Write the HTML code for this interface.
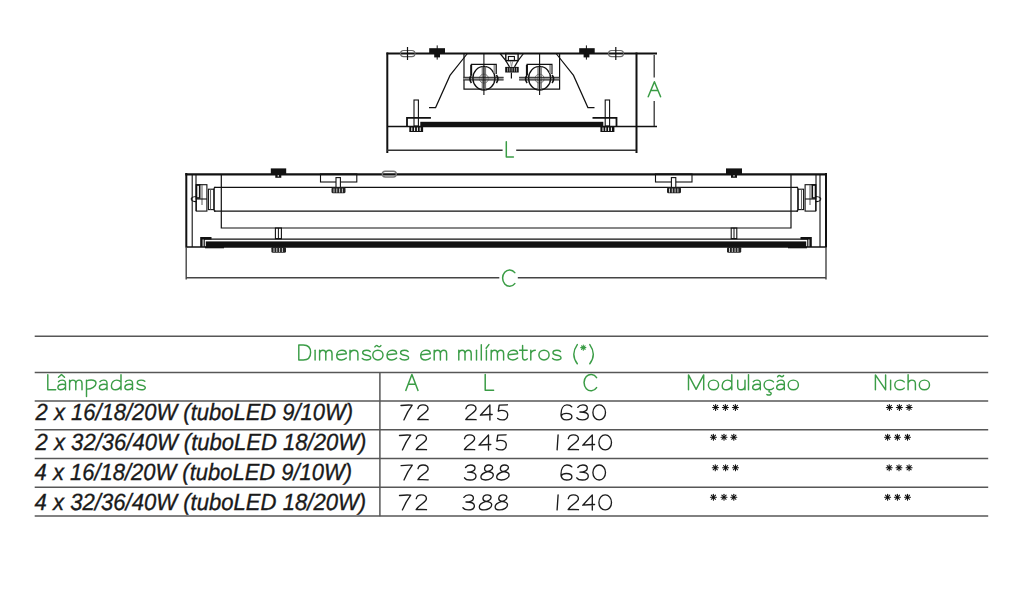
<!DOCTYPE html>
<html><head><meta charset="utf-8">
<style>
html,body{margin:0;padding:0;background:#fff;width:1024px;height:595px;overflow:hidden}
svg{display:block}
.k{stroke:#111;fill:none}
.g{fill:#3a9c45;font-family:"Liberation Sans",sans-serif;stroke:#fff;stroke-width:0.7px}
.t{fill:#1a1a1a;font-family:"Liberation Sans",sans-serif;font-style:italic;text-rendering:geometricPrecision;stroke:#1a1a1a;stroke-width:0.35px}
.n{fill:#222;font-family:"Liberation Sans",sans-serif}
.gl{stroke:#3a9c45;fill:none;stroke-width:1.5;stroke-linecap:round;stroke-linejoin:round}
</style></head>
<body>
<svg width="1024" height="595" viewBox="0 0 1024 595">
<!-- ============ SMALL DRAWING (cross-section) ============ -->
<g class="k">
  <!-- box -->
  <line x1="386.5" y1="53.5" x2="657" y2="53.5" stroke-width="2"/>
  <line x1="387.3" y1="52.5" x2="387.3" y2="153" stroke-width="2"/>
  <line x1="636.5" y1="52.5" x2="636.5" y2="153" stroke-width="2"/>
  <line x1="387" y1="126.5" x2="657" y2="126.5" stroke-width="1.5"/>
  <!-- dim lines -->
  <line x1="387" y1="150.3" x2="502.6" y2="150.3" stroke-width="1.4" stroke="#333"/>
  <line x1="516.2" y1="150.3" x2="636" y2="150.3" stroke-width="1.4" stroke="#333"/>
  <line x1="654.2" y1="55" x2="654.2" y2="77.4" stroke-width="1.3" stroke="#333"/>
  <line x1="654.2" y1="101" x2="654.2" y2="126" stroke-width="1.3" stroke="#333"/>
  <!-- reflector -->
  <polyline points="429,107.6 435.6,107.6 450,75.4 467.4,53.5" stroke-width="1.2"/>
  <polyline points="594.5,107.6 587.9,107.6 573.5,75.4 556.1,53.5" stroke-width="1.2"/>
  <!-- inner box -->
  <polyline points="464,53.5 464,89.2 559.6,89.2 559.6,53.5" stroke-width="1.2"/>
  <!-- lamp holders -->
  <g stroke-width="1.2">
    <rect x="482.2" y="66" width="3.4" height="24" fill="#b5b5b5" stroke="none"/>
    <rect x="463.4" y="77.3" width="40.2" height="2.7" fill="#999" stroke="none"/>
    <ellipse cx="483.9" cy="78.2" rx="11" ry="11.8" stroke-width="1.4"/>
    <circle cx="483.9" cy="78.6" r="4.5" stroke="#777" stroke-width="1"/>
    <path d="M482.2,66 V90 M485.6,66 V90" stroke="#555" stroke-width="0.8"/>
    <path d="M463.4,77.3 H503.6 M463.4,80 H503.6" stroke="#222" stroke-width="1"/>
    <line x1="483.9" y1="53.5" x2="483.9" y2="95" stroke-width="1.1"/>
    <path d="M471.5,75 V64.4 H496.2 V74" stroke-width="1.3"/>
    <path d="M471.1,64.8 V75" stroke-width="1.8"/>
    <rect x="493.5" y="65" width="2.4" height="8" fill="#999" stroke="none"/>
    <path d="M471.4,75 Q468.4,79 471.4,83 M496.4,75 Q499.4,79 496.4,83" stroke-width="1.6"/>
    <rect x="537.9" y="66" width="3.4" height="24" fill="#b5b5b5" stroke="none"/>
    <rect x="519.1" y="77.3" width="40.2" height="2.7" fill="#999" stroke="none"/>
    <ellipse cx="539.6" cy="78.2" rx="11" ry="11.8" stroke-width="1.4"/>
    <circle cx="539.6" cy="78.6" r="4.5" stroke="#777" stroke-width="1"/>
    <path d="M537.9,66 V90 M541.3,66 V90" stroke="#555" stroke-width="0.8"/>
    <path d="M519.1,77.3 H559.3 M519.1,80 H559.3" stroke="#222" stroke-width="1"/>
    <line x1="539.6" y1="53.5" x2="539.6" y2="95" stroke-width="1.1"/>
    <path d="M527.2,75 V64.4 H551.9 V74" stroke-width="1.3"/>
    <path d="M526.8,64.8 V75" stroke-width="1.8"/>
    <rect x="549.2" y="65" width="2.4" height="8" fill="#999" stroke="none"/>
    <path d="M527.1,75 Q524.1,79 527.1,83 M552.1,75 Q555.1,79 552.1,83" stroke-width="1.6"/>
  </g>
  <!-- middle bracket -->
  <g stroke-width="1.2">
    <path d="M500.1,53.5 L505.8,60.6 L509.5,66.9 M523.5,53.5 L518.1,60.6 L514.5,66.9"/>
    <rect x="505.8" y="53.5" width="12.3" height="7.1" stroke-width="1.4"/>
    <rect x="508.4" y="56.5" width="6" height="4.1" stroke-width="1.1"/>
    <path d="M510.5,61 L511.4,66.5 M512.8,61 L511.6,66.5" stroke="#777" stroke-width="0.8"/>
    <rect x="505.2" y="66.9" width="13.5" height="5.6" fill="#111" stroke="none"/>
    <path d="M507.6,67.8 v3.8 M509.8,67.8 v3.8 M512.1,67.8 v3.8 M514.4,67.8 v3.8 M516.6,67.8 v3.8" stroke="#bbb" stroke-width="0.8"/>
    <line x1="511.4" y1="72.5" x2="511.4" y2="78.4"/>
  </g>
  <!-- top blocks -->
  <rect x="429.2" y="48.2" width="15.8" height="5.3" fill="#111" stroke="none"/>
  <rect x="434.2" y="53.5" width="5.8" height="3.9" fill="#111" stroke="none"/>
  <line x1="437.2" y1="45.4" x2="437.2" y2="59.6" stroke-width="1"/>
  <rect x="579.2" y="48.2" width="15.5" height="5.3" fill="#111" stroke="none"/>
  <rect x="583.6" y="53.5" width="5.8" height="3.9" fill="#111" stroke="none"/>
  <line x1="586.4" y1="45.4" x2="586.4" y2="59.6" stroke-width="1"/>
  <!-- ovals -->
  <rect x="400.5" y="50.5" width="14.5" height="6.2" rx="3.1" stroke="#666" stroke-width="1.2"/>
  <line x1="407.5" y1="47" x2="407.5" y2="60" stroke-width="1.2"/>
  <rect x="608.5" y="50.5" width="15" height="6.2" rx="3.1" stroke="#666" stroke-width="1.2"/>
  <line x1="615.8" y1="47" x2="615.8" y2="60" stroke-width="1.2"/>
  <!-- bottom left -->
  <rect x="414" y="100" width="4.4" height="26" stroke-width="1.1"/>
  <path d="M430.9,117.8 H407 V126.5" stroke-width="1.8"/>
  <rect x="420.3" y="121.8" width="183" height="4.4" fill="#111" stroke="none"/>
  <rect x="409.3" y="126.2" width="13.8" height="5.8" fill="#111" stroke="none"/>
  <path d="M411.8,127.5 v3.5 M414.6,127.5 v3.5 M417.4,127.5 v3.5 M420.2,127.5 v3.5" stroke="#fff" stroke-width="1"/>
  <!-- bottom right -->
  <rect x="605.2" y="100" width="4.4" height="26" stroke-width="1.1"/>
  <path d="M592.5,117.8 H616.5 V126.5" stroke-width="1.8"/>
  <rect x="600.4" y="126.2" width="14" height="5.8" fill="#111" stroke="none"/>
  <path d="M603,127.5 v3.5 M605.8,127.5 v3.5 M608.6,127.5 v3.5 M611.4,127.5 v3.5" stroke="#fff" stroke-width="1"/>
</g>
<!-- labels in drawing -->
<path class="gl" d="M648.2,96.8 L654.4,81.8 L660.6,96.8 M650.8,90.6 H658"/>
<path class="gl" d="M506.3,141.8 V157 H513.4"/>
<path class="gl" d="M514.8,272.6 A7,8.2 0 1 0 514.8,283.6"/>

<!-- ============ LARGE DRAWING (side view) ============ -->
<g class="k">
  <line x1="185.3" y1="174.3" x2="827" y2="174.3" stroke-width="2.2"/>
  <line x1="186.3" y1="173" x2="186.3" y2="247.5" stroke-width="2"/>
  <line x1="826" y1="173" x2="826" y2="247.5" stroke-width="2"/>
  <line x1="186" y1="247" x2="826" y2="247" stroke-width="1.6"/>
  <line x1="186.2" y1="247" x2="186.2" y2="279.5" stroke-width="1.4" stroke="#444"/>
  <line x1="826" y1="247" x2="826" y2="279.5" stroke-width="1.4" stroke="#444"/>
  <line x1="186" y1="277.7" x2="499.3" y2="277.7" stroke-width="1.4" stroke="#444"/>
  <line x1="517.8" y1="277.7" x2="826" y2="277.7" stroke-width="1.4" stroke="#444"/>
  <!-- inner verticals -->
  <path d="M192.2,175 V247 M196,175 V211 M816,175 V211 M820,175 V247" stroke-width="1.1"/>
  <!-- housing -->
  <polyline points="221.3,175 221.3,228 791,228 791,175" stroke-width="1.2"/>
  <!-- tube -->
  <path d="M214,187.4 H798 M214,211.2 H798" stroke-width="1.2"/>
  <path d="M215.5,187.4 Q214,187.4 214,189 V209.6 Q214,211.2 215.5,211.2" stroke-width="1.2"/>
  <path d="M796.5,187.4 Q798,187.4 798,189 V209.6 Q798,211.2 796.5,211.2" stroke-width="1.2"/>
  <!-- lamp holders -->
  <g stroke-width="1.1">
    <rect x="208.4" y="189.2" width="5.6" height="20.4"/>
    <line x1="210.5" y1="189.5" x2="210.5" y2="209.5" stroke="#666"/>
    <rect x="196.3" y="184.7" width="10.6" height="26.4"/>
    <rect x="196.5" y="185" width="3.2" height="13" stroke-width="1.6"/>
    <line x1="202" y1="185" x2="202" y2="205" stroke="#666"/>
    <line x1="196.3" y1="199" x2="206.9" y2="199"/>
    <path d="M196.3,196.5 Q190,197 191.5,200 Q193,202 196.3,201.5" stroke-width="1.1"/>
    <rect x="798" y="189.2" width="5.6" height="20.4"/>
    <line x1="801.5" y1="189.5" x2="801.5" y2="209.5" stroke="#666"/>
    <rect x="805.1" y="184.7" width="10.6" height="26.4"/>
    <rect x="812.3" y="185" width="3.2" height="13" stroke-width="1.6"/>
    <line x1="810" y1="185" x2="810" y2="205" stroke="#666"/>
    <line x1="805.1" y1="199" x2="815.7" y2="199"/>
    <path d="M815.7,196.5 Q822,197 820.5,200 Q819,202 815.7,201.5" stroke-width="1.1"/>
  </g>
  <!-- diffuser -->
  <path d="M204.2,247 V239.2 H807.8 V247" stroke-width="1.2"/>
  <path d="M201.4,247 V238.2 H211.5" stroke-width="2.4"/>
  <path d="M810.6,247 V238.2 H800.5" stroke-width="2.4"/>
  <rect x="205.8" y="241.4" width="600.4" height="5.6" fill="#111" stroke="none"/>
  <rect x="205" y="246.5" width="19" height="1.8" fill="#111" stroke="none"/>
  <rect x="788" y="246.5" width="19" height="1.8" fill="#111" stroke="none"/>
  <!-- top blocks -->
  <rect x="270.8" y="168.4" width="15.4" height="5.8" fill="#111" stroke="none"/>
  <rect x="275.3" y="174" width="6" height="3.8" fill="#111" stroke="none"/><rect x="277.6" y="175.3" width="1.4" height="1.2" fill="#fff" stroke="none"/>
  <rect x="726" y="168.4" width="16" height="5.8" fill="#111" stroke="none"/>
  <rect x="731" y="174" width="6" height="3.8" fill="#111" stroke="none"/><rect x="733.3" y="175.3" width="1.4" height="1.2" fill="#fff" stroke="none"/>
  <rect x="382.3" y="171.2" width="14" height="5.8" rx="2.9" stroke="#777" stroke-width="1.4"/>
  <!-- mounting brackets -->
  <rect x="320.5" y="174" width="36.3" height="8" stroke-width="1.1"/>
  <rect x="655.5" y="174" width="36.5" height="8" stroke-width="1.1"/>
  <rect x="336" y="177.6" width="4.4" height="9.8" stroke-width="1.1" fill="#fff"/>
  <rect x="671.4" y="177.6" width="4.4" height="9.8" stroke-width="1.1" fill="#fff"/>
  <rect x="331.5" y="187.3" width="14" height="6" rx="1.5" fill="#222" stroke="none"/>
  <rect x="667" y="187.3" width="14" height="6" rx="1.5" fill="#222" stroke="none"/>
  <path d="M334,188.5 v4 M336.8,188.5 v4 M339.6,188.5 v4 M342.4,188.5 v4 M669.5,188.5 v4 M672.3,188.5 v4 M675.1,188.5 v4 M677.9,188.5 v4" stroke="#ccc" stroke-width="1"/>
  <!-- lower screws -->
  <rect x="275.4" y="228" width="6" height="10.6" stroke-width="1.1"/>
  <line x1="278.4" y1="228" x2="278.4" y2="238.6" stroke-width="1"/>
  <rect x="731.2" y="228" width="5.6" height="10.6" stroke-width="1.1"/>
  <line x1="734" y1="228" x2="734" y2="238.6" stroke-width="1"/>
  <rect x="271.4" y="246.7" width="14.6" height="6" rx="1.5" fill="#222" stroke="none"/>
  <rect x="727" y="246.7" width="14.2" height="6" rx="1.5" fill="#222" stroke="none"/>
  <path d="M274,248 v4 M276.8,248 v4 M279.6,248 v4 M282.4,248 v4 M729.5,248 v4 M732.3,248 v4 M735.1,248 v4 M737.9,248 v4" stroke="#ccc" stroke-width="1"/>
</g>

<!-- ============ TABLE ============ -->
<g stroke="#575757" stroke-width="1.5">
  <line x1="34.7" y1="336.2" x2="988.2" y2="336.2"/>
  <line x1="34.7" y1="372.5" x2="988.2" y2="372.5"/>
  <line x1="34.7" y1="401" x2="988.2" y2="401"/>
  <line x1="34.7" y1="429.8" x2="988.2" y2="429.8"/>
  <line x1="34.7" y1="458.5" x2="988.2" y2="458.5"/>
  <line x1="34.7" y1="487.3" x2="988.2" y2="487.3"/>
  <line x1="34.7" y1="515.9" x2="988.2" y2="515.9"/>
  <line x1="379.9" y1="372.5" x2="379.9" y2="516.2"/>
</g>
<text class="t" x="35.60" y="420.30" font-size="23.4" textLength="317.50" lengthAdjust="spacingAndGlyphs">2 x 16/18/20W (tuboLED 9/10W)</text>
<text class="t" x="35.60" y="450.00" font-size="23.4" textLength="330.80" lengthAdjust="spacingAndGlyphs">2 x 32/36/40W (tuboLED 18/20W)</text>
<text class="t" x="34.60" y="479.90" font-size="23.4" textLength="317.50" lengthAdjust="spacingAndGlyphs">4 x 16/18/20W (tuboLED 9/10W)</text>
<text class="t" x="34.60" y="510.30" font-size="23.4" textLength="331.60" lengthAdjust="spacingAndGlyphs">4 x 32/36/40W (tuboLED 18/20W)</text>
<path class="gl" d="M405.8,390.4 L411.9,374.5 L418,390.4 M408.1,384.3 H415.7"/>
<path class="gl" d="M485.2,374.6 V390.2 H493.6"/>
<path class="gl" d="M596.6,377.6 A7,8.2 0 1 0 596.6,387.6"/>

<!-- asterisks -->
<defs>
  <g id="ast" stroke="#111" stroke-width="1.05" stroke-linecap="round">
    <line x1="0" y1="-3" x2="0" y2="3"/>
    <line x1="-3" y1="0" x2="3" y2="0"/>
    <line x1="-2.1" y1="-2.1" x2="2.1" y2="2.1"/>
    <line x1="-2.1" y1="2.1" x2="2.1" y2="-2.1"/>
    <circle r="1" fill="#111" stroke="none"/>
  </g>
</defs>
<use href="#ast" x="715.6" y="407.4"/><use href="#ast" x="725.4" y="407.4"/><use href="#ast" x="735.4" y="407.4"/>
<use href="#ast" x="889.4" y="407.4"/><use href="#ast" x="899.4" y="407.4"/><use href="#ast" x="909.1" y="407.4"/>
<use href="#ast" x="713.4" y="437.2"/><use href="#ast" x="724" y="437.2"/><use href="#ast" x="733.8" y="437.2"/>
<use href="#ast" x="887.6" y="437.2"/><use href="#ast" x="897.4" y="437.2"/><use href="#ast" x="907.5" y="437.2"/>
<use href="#ast" x="715.3" y="467.7"/><use href="#ast" x="725.6" y="467.7"/><use href="#ast" x="735.5" y="467.7"/>
<use href="#ast" x="889.2" y="467.7"/><use href="#ast" x="899" y="467.7"/><use href="#ast" x="909.1" y="467.7"/>
<use href="#ast" x="713.4" y="497.2"/><use href="#ast" x="724" y="497.2"/><use href="#ast" x="733.8" y="497.2"/>
<use href="#ast" x="887.6" y="497.2"/><use href="#ast" x="897.4" y="497.2"/><use href="#ast" x="907.5" y="497.2"/>
<g fill="none" stroke="#1c1c1c" stroke-width="1.35" stroke-linecap="round" stroke-linejoin="round">
<path transform="translate(400.3,404.2)" d="M0.7,1.3 Q6,0.6 11.9,0.9 Q7,7.5 3.6,15.7"/>
<path transform="translate(417.0,404.2)" d="M0.9,4.4 C1.4,1.8 3.8,0.7 6,0.7 C9,0.7 11,2.4 11,4.6 C11,8.2 3.5,10.2 0.8,15.4 Q6,15.1 11.1,15.5"/>
<path transform="translate(465.0,404.2)" d="M0.9,4.4 C1.4,1.8 3.8,0.7 6,0.7 C9,0.7 11,2.4 11,4.6 C11,8.2 3.5,10.2 0.8,15.4 Q6,15.1 11.1,15.5"/>
<path transform="translate(479.7,404.2)" d="M10.2,15.9 V0.7 L0.7,11 Q6,10.4 12.5,10.3"/>
<path transform="translate(497.0,404.2)" d="M10.4,0.6 L2.2,1 L1.3,7 C4,5.6 10.8,5.8 10.7,10.8 C10.6,14.5 7.5,15.7 5.5,15.7 C3.5,15.7 1.6,15 0.7,14.2"/>
<path transform="translate(560.3,404.2)" d="M11.5,2.6 C10.5,1.2 8.6,0.7 6.6,0.7 C3,0.7 0.7,4.6 0.7,10 C0.7,13.6 3,15.7 6.2,15.7 C9.5,15.7 11.6,14.4 11.6,12.4 C11.6,10.1 8.6,9.2 6,9.2 C3.6,9.2 1.6,10.2 0.7,11.6"/>
<path transform="translate(576.1,404.2)" d="M1.7,3.2 C3,1.3 5,0.7 6.8,0.7 C9.5,0.7 11.2,2 11.2,4 C11.2,6.6 8,7.8 3.8,7.8 C8.2,7.8 12.2,8.6 12.2,11.6 C12.2,14.3 9.5,15.7 6.3,15.7 C3.6,15.7 1.5,14.8 0.7,13.5"/>
<path transform="translate(592.2,404.2)" d="M7,0.7 C10.6,0.7 13.3,4.2 13.3,8.2 C13.3,12.4 10.6,15.7 7,15.7 C3.4,15.7 0.7,12.4 0.7,8.2 C0.7,4.2 3.4,0.7 7,0.7 Z"/>
<path transform="translate(398.8,434.2)" d="M0.7,1.3 Q6,0.6 11.9,0.9 Q7,7.5 3.6,15.7"/>
<path transform="translate(415.4,434.2)" d="M0.9,4.4 C1.4,1.8 3.8,0.7 6,0.7 C9,0.7 11,2.4 11,4.6 C11,8.2 3.5,10.2 0.8,15.4 Q6,15.1 11.1,15.5"/>
<path transform="translate(463.6,434.2)" d="M0.9,4.4 C1.4,1.8 3.8,0.7 6,0.7 C9,0.7 11,2.4 11,4.6 C11,8.2 3.5,10.2 0.8,15.4 Q6,15.1 11.1,15.5"/>
<path transform="translate(478.3,434.2)" d="M10.2,15.9 V0.7 L0.7,11 Q6,10.4 12.5,10.3"/>
<path transform="translate(495.6,434.2)" d="M10.4,0.6 L2.2,1 L1.3,7 C4,5.6 10.8,5.8 10.7,10.8 C10.6,14.5 7.5,15.7 5.5,15.7 C3.5,15.7 1.6,15 0.7,14.2"/>
<path transform="translate(556.2,434.2)" d="M1.9,0.7 L0.9,15.7"/>
<path transform="translate(567.4,434.2)" d="M0.9,4.4 C1.4,1.8 3.8,0.7 6,0.7 C9,0.7 11,2.4 11,4.6 C11,8.2 3.5,10.2 0.8,15.4 Q6,15.1 11.1,15.5"/>
<path transform="translate(582.1,434.2)" d="M10.2,15.9 V0.7 L0.7,11 Q6,10.4 12.5,10.3"/>
<path transform="translate(598.2,434.2)" d="M7,0.7 C10.6,0.7 13.3,4.2 13.3,8.2 C13.3,12.4 10.6,15.7 7,15.7 C3.4,15.7 0.7,12.4 0.7,8.2 C0.7,4.2 3.4,0.7 7,0.7 Z"/>
<path transform="translate(400.4,464.3)" d="M0.7,1.3 Q6,0.6 11.9,0.9 Q7,7.5 3.6,15.7"/>
<path transform="translate(417.1,464.3)" d="M0.9,4.4 C1.4,1.8 3.8,0.7 6,0.7 C9,0.7 11,2.4 11,4.6 C11,8.2 3.5,10.2 0.8,15.4 Q6,15.1 11.1,15.5"/>
<path transform="translate(463.8,464.3)" d="M1.7,3.2 C3,1.3 5,0.7 6.8,0.7 C9.5,0.7 11.2,2 11.2,4 C11.2,6.6 8,7.8 3.8,7.8 C8.2,7.8 12.2,8.6 12.2,11.6 C12.2,14.3 9.5,15.7 6.3,15.7 C3.6,15.7 1.5,14.8 0.7,13.5"/>
<path transform="translate(480.2,464.3)" d="M8.6,0.7 C11,0.7 12.6,1.8 12.4,3.4 C12.2,5.3 9.5,6.7 7.6,7.2 C4,8.2 0.7,10.3 0.7,12.8 C0.7,14.7 2.6,15.7 5.3,15.7 C9.6,15.7 13.1,13.4 13.1,10.6 C13.1,8.3 10.5,7.6 7.6,7.2 C5.6,6.9 4.2,5.7 4.4,4 C4.6,2 6.4,0.7 8.6,0.7 Z"/>
<path transform="translate(496.0,464.3)" d="M8.6,0.7 C11,0.7 12.6,1.8 12.4,3.4 C12.2,5.3 9.5,6.7 7.6,7.2 C4,8.2 0.7,10.3 0.7,12.8 C0.7,14.7 2.6,15.7 5.3,15.7 C9.6,15.7 13.1,13.4 13.1,10.6 C13.1,8.3 10.5,7.6 7.6,7.2 C5.6,6.9 4.2,5.7 4.4,4 C4.6,2 6.4,0.7 8.6,0.7 Z"/>
<path transform="translate(560.3,464.3)" d="M11.5,2.6 C10.5,1.2 8.6,0.7 6.6,0.7 C3,0.7 0.7,4.6 0.7,10 C0.7,13.6 3,15.7 6.2,15.7 C9.5,15.7 11.6,14.4 11.6,12.4 C11.6,10.1 8.6,9.2 6,9.2 C3.6,9.2 1.6,10.2 0.7,11.6"/>
<path transform="translate(576.1,464.3)" d="M1.7,3.2 C3,1.3 5,0.7 6.8,0.7 C9.5,0.7 11.2,2 11.2,4 C11.2,6.6 8,7.8 3.8,7.8 C8.2,7.8 12.2,8.6 12.2,11.6 C12.2,14.3 9.5,15.7 6.3,15.7 C3.6,15.7 1.5,14.8 0.7,13.5"/>
<path transform="translate(592.2,464.3)" d="M7,0.7 C10.6,0.7 13.3,4.2 13.3,8.2 C13.3,12.4 10.6,15.7 7,15.7 C3.4,15.7 0.7,12.4 0.7,8.2 C0.7,4.2 3.4,0.7 7,0.7 Z"/>
<path transform="translate(398.8,494.2)" d="M0.7,1.3 Q6,0.6 11.9,0.9 Q7,7.5 3.6,15.7"/>
<path transform="translate(415.4,494.2)" d="M0.9,4.4 C1.4,1.8 3.8,0.7 6,0.7 C9,0.7 11,2.4 11,4.6 C11,8.2 3.5,10.2 0.8,15.4 Q6,15.1 11.1,15.5"/>
<path transform="translate(462.2,494.2)" d="M1.7,3.2 C3,1.3 5,0.7 6.8,0.7 C9.5,0.7 11.2,2 11.2,4 C11.2,6.6 8,7.8 3.8,7.8 C8.2,7.8 12.2,8.6 12.2,11.6 C12.2,14.3 9.5,15.7 6.3,15.7 C3.6,15.7 1.5,14.8 0.7,13.5"/>
<path transform="translate(478.6,494.2)" d="M8.6,0.7 C11,0.7 12.6,1.8 12.4,3.4 C12.2,5.3 9.5,6.7 7.6,7.2 C4,8.2 0.7,10.3 0.7,12.8 C0.7,14.7 2.6,15.7 5.3,15.7 C9.6,15.7 13.1,13.4 13.1,10.6 C13.1,8.3 10.5,7.6 7.6,7.2 C5.6,6.9 4.2,5.7 4.4,4 C4.6,2 6.4,0.7 8.6,0.7 Z"/>
<path transform="translate(494.4,494.2)" d="M8.6,0.7 C11,0.7 12.6,1.8 12.4,3.4 C12.2,5.3 9.5,6.7 7.6,7.2 C4,8.2 0.7,10.3 0.7,12.8 C0.7,14.7 2.6,15.7 5.3,15.7 C9.6,15.7 13.1,13.4 13.1,10.6 C13.1,8.3 10.5,7.6 7.6,7.2 C5.6,6.9 4.2,5.7 4.4,4 C4.6,2 6.4,0.7 8.6,0.7 Z"/>
<path transform="translate(556.2,494.2)" d="M1.9,0.7 L0.9,15.7"/>
<path transform="translate(567.4,494.2)" d="M0.9,4.4 C1.4,1.8 3.8,0.7 6,0.7 C9,0.7 11,2.4 11,4.6 C11,8.2 3.5,10.2 0.8,15.4 Q6,15.1 11.1,15.5"/>
<path transform="translate(582.1,494.2)" d="M10.2,15.9 V0.7 L0.7,11 Q6,10.4 12.5,10.3"/>
<path transform="translate(598.2,494.2)" d="M7,0.7 C10.6,0.7 13.3,4.2 13.3,8.2 C13.3,12.4 10.6,15.7 7,15.7 C3.4,15.7 0.7,12.4 0.7,8.2 C0.7,4.2 3.4,0.7 7,0.7 Z"/>
</g>
<g fill="none" stroke="#3b9d47" stroke-width="1.45" stroke-linecap="round" stroke-linejoin="round">
<path transform="translate(298.1,360.6)" d="M0.7,-15.6 V-0.7 H5.2 C10,-0.7 12.5,-3.8 12.5,-8.15 C12.5,-12.5 10,-15.6 5.2,-15.6 Z"/>
<path transform="translate(314.4,360.6)" d="M0.7,-10.4 V-0.7"/>
<path transform="translate(318.9,360.6)" d="M0.7,-10.4 V-0.7 M0.7,-7.6 C1.3,-9.6 2.6,-10.4 4,-10.4 C5.8,-10.4 6.9,-9.2 6.9,-7.2 V-0.7 M6.9,-7.4 C7.4,-9.5 8.7,-10.4 10.2,-10.4 C12,-10.4 13.1,-9.2 13.1,-7.2 V-0.7"/>
<path transform="translate(336.0,360.6)" d="M1,-5.9 Q6,-6.3 10.3,-6.8 C10.3,-9.2 8.4,-10.4 6,-10.4 C3,-10.4 0.7,-8.2 0.7,-5.2 C0.7,-2.3 2.8,-0.7 5.6,-0.7 C7.6,-0.7 9.2,-1.4 10.3,-2.6"/>
<path transform="translate(349.3,360.6)" d="M0.7,-10.4 V-0.7 M0.7,-7.4 C1.4,-9.5 2.9,-10.4 4.7,-10.4 C7.2,-10.4 8.6,-9.1 8.6,-6.8 V-0.7"/>
<path transform="translate(361.6,360.6)" d="M8.6,-9.2 C7.7,-10.1 6.4,-10.4 4.9,-10.4 C2.7,-10.4 1.1,-9.4 1.1,-7.8 C1.1,-6.1 3.1,-5.6 5,-5.3 C7.3,-4.9 9.1,-4.2 9.1,-2.7 C9.1,-1.4 7.4,-0.7 5,-0.7 C3.1,-0.7 1.6,-1.2 0.7,-2.2"/>
<path transform="translate(372.1,360.6)" d="M5.8,-10.4 C8.8,-10.4 10.9,-8.2 10.9,-5.55 C10.9,-2.8 8.8,-0.7 5.8,-0.7 C2.8,-0.7 0.7,-2.8 0.7,-5.55 C0.7,-8.2 2.8,-10.4 5.8,-10.4 Z M2.80,-13.70 C3.80,-15.30 4.80,-15.30 5.80,-14.40 C6.80,-13.50 7.80,-13.50 8.80,-15.00"/>
<path transform="translate(386.3,360.6)" d="M1,-5.9 Q6,-6.3 10.3,-6.8 C10.3,-9.2 8.4,-10.4 6,-10.4 C3,-10.4 0.7,-8.2 0.7,-5.2 C0.7,-2.3 2.8,-0.7 5.6,-0.7 C7.6,-0.7 9.2,-1.4 10.3,-2.6"/>
<path transform="translate(399.5,360.6)" d="M8.6,-9.2 C7.7,-10.1 6.4,-10.4 4.9,-10.4 C2.7,-10.4 1.1,-9.4 1.1,-7.8 C1.1,-6.1 3.1,-5.6 5,-5.3 C7.3,-4.9 9.1,-4.2 9.1,-2.7 C9.1,-1.4 7.4,-0.7 5,-0.7 C3.1,-0.7 1.6,-1.2 0.7,-2.2"/>
<path transform="translate(420.0,360.6)" d="M1,-5.9 Q6,-6.3 10.3,-6.8 C10.3,-9.2 8.4,-10.4 6,-10.4 C3,-10.4 0.7,-8.2 0.7,-5.2 C0.7,-2.3 2.8,-0.7 5.6,-0.7 C7.6,-0.7 9.2,-1.4 10.3,-2.6"/>
<path transform="translate(433.5,360.6)" d="M0.7,-10.4 V-0.7 M0.7,-7.6 C1.3,-9.6 2.6,-10.4 4,-10.4 C5.8,-10.4 6.9,-9.2 6.9,-7.2 V-0.7 M6.9,-7.4 C7.4,-9.5 8.7,-10.4 10.2,-10.4 C12,-10.4 13.1,-9.2 13.1,-7.2 V-0.7"/>
<path transform="translate(458.1,360.6)" d="M0.7,-10.4 V-0.7 M0.7,-7.6 C1.3,-9.6 2.6,-10.4 4,-10.4 C5.8,-10.4 6.9,-9.2 6.9,-7.2 V-0.7 M6.9,-7.4 C7.4,-9.5 8.7,-10.4 10.2,-10.4 C12,-10.4 13.1,-9.2 13.1,-7.2 V-0.7"/>
<path transform="translate(475.8,360.6)" d="M0.7,-10.4 V-0.7"/>
<path transform="translate(480.6,360.6)" d="M0.7,-15.8 V-0.7"/>
<path transform="translate(485.7,360.6)" d="M0.7,-10.4 V-0.7 M0.4,-12.4 L3.2,-16"/>
<path transform="translate(490.5,360.6)" d="M0.7,-10.4 V-0.7 M0.7,-7.6 C1.3,-9.6 2.6,-10.4 4,-10.4 C5.8,-10.4 6.9,-9.2 6.9,-7.2 V-0.7 M6.9,-7.4 C7.4,-9.5 8.7,-10.4 10.2,-10.4 C12,-10.4 13.1,-9.2 13.1,-7.2 V-0.7"/>
<path transform="translate(507.3,360.6)" d="M1,-5.9 Q6,-6.3 10.3,-6.8 C10.3,-9.2 8.4,-10.4 6,-10.4 C3,-10.4 0.7,-8.2 0.7,-5.2 C0.7,-2.3 2.8,-0.7 5.6,-0.7 C7.6,-0.7 9.2,-1.4 10.3,-2.6"/>
<path transform="translate(519.2,360.6)" d="M3.4,-15.2 V-3 C3.4,-1.4 4.4,-0.7 5.7,-0.7 C6.8,-0.7 7.6,-1.1 8.1,-1.8 M0.4,-10.3 H8"/>
<path transform="translate(530.1,360.6)" d="M0.7,-10.4 V-0.7 M0.7,-7 C1.4,-9.3 3,-10.4 5.2,-10.4"/>
<path transform="translate(538.2,360.6)" d="M5.8,-10.4 C8.8,-10.4 10.9,-8.2 10.9,-5.55 C10.9,-2.8 8.8,-0.7 5.8,-0.7 C2.8,-0.7 0.7,-2.8 0.7,-5.55 C0.7,-8.2 2.8,-10.4 5.8,-10.4 Z"/>
<path transform="translate(551.9,360.6)" d="M8.6,-9.2 C7.7,-10.1 6.4,-10.4 4.9,-10.4 C2.7,-10.4 1.1,-9.4 1.1,-7.8 C1.1,-6.1 3.1,-5.6 5,-5.3 C7.3,-4.9 9.1,-4.2 9.1,-2.7 C9.1,-1.4 7.4,-0.7 5,-0.7 C3.1,-0.7 1.6,-1.2 0.7,-2.2"/>
<path transform="translate(573.1,360.6)" d="M4.2,-16 C1.8,-12.6 0.7,-9.3 0.7,-6.3 C0.7,-3.3 1.8,0 4.2,3.2"/>
<path transform="translate(580.3,360.6)" stroke-width="1.1" d="M3,-15.6 V-10.4 M0.4,-13 H5.6 M1.2,-14.8 L4.8,-11.2 M1.2,-11.2 L4.8,-14.8"/>
<path transform="translate(589.1,360.6)" d="M0.7,-16 C3.1,-12.6 4.2,-9.3 4.2,-6.3 C4.2,-3.3 3.1,0 0.7,3.2"/>
<path transform="translate(47.1,390.5)" d="M0.7,-15.8 V-0.7 H8.6"/>
<path transform="translate(57.2,390.5)" d="M1.3,-8.8 C2.2,-10 3.6,-10.4 5,-10.4 C7,-10.4 8.3,-9.3 8.3,-7.3 V-0.7 M8.3,-5.6 C6.8,-6.2 5,-6.3 3.5,-6 C1.7,-5.6 0.7,-4.4 0.7,-3.1 C0.7,-1.6 1.9,-0.7 3.6,-0.7 C5.5,-0.7 7.3,-1.8 8.3,-3.3 M1.30,-13.20 L4.30,-16.00 L7.30,-13.20"/>
<path transform="translate(68.9,390.5)" d="M0.7,-10.4 V-0.7 M0.7,-7.6 C1.3,-9.6 2.6,-10.4 4,-10.4 C5.8,-10.4 6.9,-9.2 6.9,-7.2 V-0.7 M6.9,-7.4 C7.4,-9.5 8.7,-10.4 10.2,-10.4 C12,-10.4 13.1,-9.2 13.1,-7.2 V-0.7"/>
<path transform="translate(85.8,390.5)" d="M0.7,-10.4 V5.9 M0.7,-9.6 C3,-10.4 5.5,-10.6 7.5,-10.2 C9.4,-9.8 10.2,-8.7 10.2,-7.2 C10.2,-4.2 6,-1.3 0.9,-1.4"/>
<path transform="translate(98.7,390.5)" d="M1.3,-8.8 C2.2,-10 3.6,-10.4 5,-10.4 C7,-10.4 8.3,-9.3 8.3,-7.3 V-0.7 M8.3,-5.6 C6.8,-6.2 5,-6.3 3.5,-6 C1.7,-5.6 0.7,-4.4 0.7,-3.1 C0.7,-1.6 1.9,-0.7 3.6,-0.7 C5.5,-0.7 7.3,-1.8 8.3,-3.3"/>
<path transform="translate(110.7,390.5)" d="M10.3,-15.8 V-0.7 M10.3,-8.4 C9,-10 7.5,-10.4 6,-10.4 C3,-10.4 0.7,-7.9 0.7,-4.8 C0.7,-2.3 2.4,-0.7 4.8,-0.7 C7.2,-0.7 9.3,-2.2 10.3,-4.6"/>
<path transform="translate(124.2,390.5)" d="M1.3,-8.8 C2.2,-10 3.6,-10.4 5,-10.4 C7,-10.4 8.3,-9.3 8.3,-7.3 V-0.7 M8.3,-5.6 C6.8,-6.2 5,-6.3 3.5,-6 C1.7,-5.6 0.7,-4.4 0.7,-3.1 C0.7,-1.6 1.9,-0.7 3.6,-0.7 C5.5,-0.7 7.3,-1.8 8.3,-3.3"/>
<path transform="translate(136.2,390.5)" d="M8.6,-9.2 C7.7,-10.1 6.4,-10.4 4.9,-10.4 C2.7,-10.4 1.1,-9.4 1.1,-7.8 C1.1,-6.1 3.1,-5.6 5,-5.3 C7.3,-4.9 9.1,-4.2 9.1,-2.7 C9.1,-1.4 7.4,-0.7 5,-0.7 C3.1,-0.7 1.6,-1.2 0.7,-2.2"/>
<path transform="translate(687.8,390.5)" d="M0.7,-0.7 V-15.6 L8.3,-1.2 L15.9,-15.6 V-0.7"/>
<path transform="translate(707.7,390.5)" d="M5.8,-10.4 C8.8,-10.4 10.9,-8.2 10.9,-5.55 C10.9,-2.8 8.8,-0.7 5.8,-0.7 C2.8,-0.7 0.7,-2.8 0.7,-5.55 C0.7,-8.2 2.8,-10.4 5.8,-10.4 Z"/>
<path transform="translate(721.5,390.5)" d="M10.3,-15.8 V-0.7 M10.3,-8.4 C9,-10 7.5,-10.4 6,-10.4 C3,-10.4 0.7,-7.9 0.7,-4.8 C0.7,-2.3 2.4,-0.7 4.8,-0.7 C7.2,-0.7 9.3,-2.2 10.3,-4.6"/>
<path transform="translate(737.0,390.5)" d="M0.7,-10.4 V-4 C0.7,-1.9 2,-0.7 4.1,-0.7 C6.3,-0.7 8,-2.3 8,-5 M8,-10.4 V-0.7"/>
<path transform="translate(747.8,390.5)" d="M0.7,-15.8 V-0.7"/>
<path transform="translate(752.0,390.5)" d="M1.3,-8.8 C2.2,-10 3.6,-10.4 5,-10.4 C7,-10.4 8.3,-9.3 8.3,-7.3 V-0.7 M8.3,-5.6 C6.8,-6.2 5,-6.3 3.5,-6 C1.7,-5.6 0.7,-4.4 0.7,-3.1 C0.7,-1.6 1.9,-0.7 3.6,-0.7 C5.5,-0.7 7.3,-1.8 8.3,-3.3"/>
<path transform="translate(763.4,390.5)" d="M10.1,-8.6 C9.1,-9.9 7.6,-10.4 5.9,-10.4 C2.9,-10.4 0.7,-8.2 0.7,-5.55 C0.7,-2.8 2.9,-0.7 5.9,-0.7 C7.7,-0.7 9.2,-1.3 10.1,-2.4 M5.90,-0.7 L5.60,1.4 C7.70,1.6 8.30,2.8 7.40,3.9 C6.50,4.6 4.50,4.6 3.50,4.1"/>
<path transform="translate(776.0,390.5)" d="M1.3,-8.8 C2.2,-10 3.6,-10.4 5,-10.4 C7,-10.4 8.3,-9.3 8.3,-7.3 V-0.7 M8.3,-5.6 C6.8,-6.2 5,-6.3 3.5,-6 C1.7,-5.6 0.7,-4.4 0.7,-3.1 C0.7,-1.6 1.9,-0.7 3.6,-0.7 C5.5,-0.7 7.3,-1.8 8.3,-3.3 M1.60,-13.70 C2.60,-15.30 3.60,-15.30 4.60,-14.40 C5.60,-13.50 6.60,-13.50 7.60,-15.00"/>
<path transform="translate(787.5,390.5)" d="M5.8,-10.4 C8.8,-10.4 10.9,-8.2 10.9,-5.55 C10.9,-2.8 8.8,-0.7 5.8,-0.7 C2.8,-0.7 0.7,-2.8 0.7,-5.55 C0.7,-8.2 2.8,-10.4 5.8,-10.4 Z"/>
<path transform="translate(874.7,390.5)" d="M0.7,-0.7 V-15.6 L10.9,-0.7 V-15.6"/>
<path transform="translate(889.9,390.5)" d="M0.7,-10.4 V-0.7"/>
<path transform="translate(894.1,390.5)" d="M10.1,-8.6 C9.1,-9.9 7.6,-10.4 5.9,-10.4 C2.9,-10.4 0.7,-8.2 0.7,-5.55 C0.7,-2.8 2.9,-0.7 5.9,-0.7 C7.7,-0.7 9.2,-1.3 10.1,-2.4"/>
<path transform="translate(907.4,390.5)" d="M0.7,-15.8 V-0.7 M0.7,-7.4 C1.4,-9.5 2.8,-10.4 4.4,-10.4 C6.7,-10.4 8,-9.1 8,-6.8 V-0.7"/>
<path transform="translate(918.6,390.5)" d="M5.8,-10.4 C8.8,-10.4 10.9,-8.2 10.9,-5.55 C10.9,-2.8 8.8,-0.7 5.8,-0.7 C2.8,-0.7 0.7,-2.8 0.7,-5.55 C0.7,-8.2 2.8,-10.4 5.8,-10.4 Z"/>
</g>
</svg>
</body></html>
